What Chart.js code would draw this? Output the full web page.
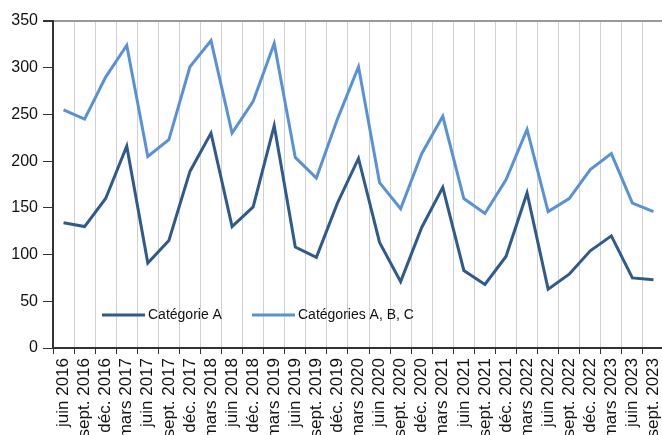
<!DOCTYPE html>
<html>
<head>
<meta charset="utf-8">
<script src="https://cdn.jsdelivr.net/npm/chart.js@4"></script>
<style>
  html, body { margin: 0; padding: 0; background: #fff; overflow: hidden; }
  #wrap { width: 666px; height: 435px; }
</style>
</head>
<body>
<div id="wrap"><canvas id="myChart" width="666" height="435"></canvas></div>
<script>
// Libellés trimestriels (tels qu'affichés sur l'axe)
const labels = ["juin 2016", "sept. 2016", "déc. 2016", "mars 2017", "juin 2017", "sept. 2017", "déc. 2017",
  "mars 2018", "juin 2018", "déc. 2018", "mars 2019", "juin 2019", "sept. 2019", "déc. 2019",
  "mars 2020", "juin 2020", "sept. 2020", "déc. 2020", "mars 2021", "juin 2021", "sept. 2021",
  "déc. 2021", "mars 2022", "juin 2022", "sept. 2022", "déc. 2022", "mars 2023", "juin 2023", "sept. 2023"];

const serieA = [134, 130, 160, 216, 91, 115, 189, 230, 130, 151, 238, 108, 97, 155, 203,
  113, 71, 129, 172, 83, 68, 98, 166, 63, 79, 104, 120, 75, 73];

const serieABC = [255, 245, 290, 324, 205, 223, 301, 329, 230, 264, 326, 204, 182, 245, 301,
  177, 149, 208, 248, 160, 144, 180, 234, 146, 160, 191, 208, 155, 146];

const yTicks = [0, 50, 100, 150, 200, 250, 300, 350];

const darkBlue = "#2E5B8D";
const lightBlue = "#5892D6";
const police = "'Liberation Sans', Arial, sans-serif";

// Légende dessinée dans la zone du graphique
const legendInside = {
  id: "legendInside",
  afterDraw(chart) {
    const ctx = chart.ctx;
    const y = 315;
    const pos = [102, 252];
    ctx.save();
    ctx.font = "14px " + police;
    ctx.textBaseline = "middle";
    chart.data.datasets.forEach((ds, i) => {
      const x = pos[i];
      ctx.strokeStyle = ds.borderColor;
      ctx.lineWidth = 3;
      ctx.beginPath();
      ctx.moveTo(x, y);
      ctx.lineTo(x + 43, y);
      ctx.stroke();
      ctx.fillStyle = "#111";
      ctx.fillText(ds.label, x + 46, y);
    });
    ctx.restore();
  }
};

const config = {
  type: "line",
  data: {
    labels: labels,
    datasets: [
      { label: "Catégorie A", data: serieA, borderColor: darkBlue, backgroundColor: darkBlue,
        borderWidth: 3, pointRadius: 0, tension: 0 },
      { label: "Catégories A, B, C", data: serieABC, borderColor: lightBlue, backgroundColor: lightBlue,
        borderWidth: 3, pointRadius: 0, tension: 0 }
    ]
  },
  options: {
    responsive: false,
    animation: false,
    layout: { padding: { top: 21, right: 2, left: 0, bottom: 0 } },
    plugins: { legend: { display: false }, tooltip: { enabled: false } },
    scales: {
      x: {
        offset: true,
        grid: { offset: true, color: "#d0d0d0", lineWidth: 1, tickColor: "#333", tickLength: 6 },
        border: { color: "#333", width: 2 },
        ticks: {
          autoSkip: false, minRotation: 90, maxRotation: 90, padding: 4,
          color: "#111", font: { family: police, size: 17 }
        },
        afterFit(scale) {
          scale.height = 87;
          scale.paddingLeft = 0;
          scale.paddingRight = 0;
        }
      },
      y: {
        min: 0, max: 350,
        afterBuildTicks(scale) { scale.ticks = yTicks.map(v => ({ value: v })); },
        grid: {
          color: (c) => c.tick && c.tick.value === 350 ? "#999" : "rgba(0,0,0,0)",
          lineWidth: (c) => c.tick && c.tick.value === 350 ? 2 : 1,
          tickColor: "#333", tickLength: 10
        },
        border: { color: "#333", width: 2 },
        ticks: {
          padding: 5, color: "#111",
          font: { family: police, size: 16 }
        },
        afterFit(scale) { scale.width = 53; }
      }
    }
  },
  plugins: [legendInside]
};

const chartDOM = document.getElementById("myChart");
window.grafica = new Chart(chartDOM, config);
</script>
</body>
</html>
